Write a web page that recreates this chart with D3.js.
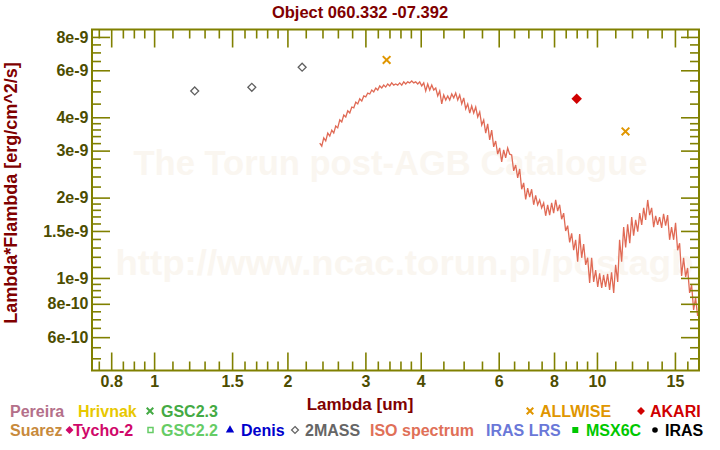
<!DOCTYPE html>
<html><head><meta charset="utf-8">
<script src="https://cdn.jsdelivr.net/npm/d3@7"></script>
<style>body{margin:0;background:#fff}svg{display:block;font-family:Arial,"Liberation Sans",sans-serif}</style>
</head><body><svg id="c" width="720" height="450"></svg>
<script>
// ---------- DATA ----------
const chartTitle = "Object 060.332 -07.392";
const xTitle = "Lambda [um]";
const yTitle = "Lambda*Flambda [erg/cm^2/s]";

const xMajorTicks = [0.8, 1, 1.5, 2, 3, 4, 6, 8, 10, 15];
const xTickLabels = ["0.8", "1", "1.5", "2", "3", "4", "6", "8", "10", "15"];
const xMinorTicks = [0.75, 0.85, 0.9, 0.95, 1.1, 1.2, 1.3, 1.4, 1.6, 1.7, 1.8, 1.9, 2.2, 2.4, 2.6, 2.8,
  3.2, 3.4, 3.6, 3.8, 4.5, 5, 5.5, 6.5, 7, 7.5, 8.5, 9, 9.5, 11, 12, 13, 14, 16];
const yMajorTicks = [6e-10, 8e-10, 1e-9, 1.5e-9, 2e-9, 3e-9, 4e-9, 6e-9, 8e-9];
const yTickLabels = ["6e-10", "8e-10", "1e-9", "1.5e-9", "2e-9", "3e-9", "4e-9", "6e-9", "8e-9"];
const yMinorTicks = [5e-10, 5.5e-10, 6.5e-10, 7e-10, 7.5e-10, 8.5e-10, 9e-10, 9.5e-10, 1.1e-9, 1.2e-9, 1.3e-9, 1.4e-9,
  1.6e-9, 1.7e-9, 1.8e-9, 1.9e-9, 2.2e-9, 2.4e-9, 2.6e-9, 2.8e-9, 3.2e-9, 3.4e-9, 3.6e-9, 3.8e-9,
  4.5e-9, 5e-9, 5.5e-9, 6.5e-9, 7e-9, 7.5e-9];

// 2MASS photometry
const twoMassWave = [1.235, 1.662, 2.159];
const twoMassFlux = [5.02e-9, 5.18e-9, 6.16e-9];
// ALLWISE photometry
const allwiseWave = [3.35, 11.6];
const allwiseFlux = [6.56e-9, 3.54e-9];
// AKARI photometry
const akariWave = [9.0];
const akariFlux = [4.69e-9];

// ISO spectrum
const isoWave = [
  2.366, 2.391, 2.416, 2.441, 2.467, 2.493, 2.519, 2.545, 2.571, 2.598,
  2.626, 2.653, 2.681, 2.709, 2.737, 2.766, 2.795, 2.824, 2.854, 2.883,
  2.913, 2.944, 2.975, 3.006, 3.037, 3.069, 3.101, 3.133, 3.166, 3.199,
  3.232, 3.266, 3.300, 3.334, 3.369, 3.405, 3.440, 3.476, 3.512, 3.549,
  3.586, 3.624, 3.662, 3.700, 3.738, 3.777, 3.817, 3.857, 3.897, 3.938,
  3.979, 4.021, 4.063, 4.105, 4.148, 4.192, 4.236, 4.280, 4.325, 4.370,
  4.415, 4.462, 4.508, 4.556, 4.603, 4.651, 4.700, 4.749, 4.798, 4.849,
  4.899, 4.951, 5.002, 5.054, 5.107, 5.161, 5.214, 5.269, 5.324, 5.380,
  5.436, 5.493, 5.550, 5.608, 5.666, 5.725, 5.785, 5.845, 5.906, 5.968,
  6.030, 6.093, 6.157, 6.221, 6.286, 6.352, 6.418, 6.486, 6.553, 6.622,
  6.691, 6.761, 6.831, 6.903, 6.975, 7.048, 7.121, 7.196, 7.271, 7.347,
  7.424, 7.501, 7.580, 7.659, 7.739, 7.820, 7.902, 7.984, 8.068, 8.152,
  8.237, 8.323, 8.410, 8.498, 8.587, 8.677, 8.768, 8.859, 8.952, 9.045,
  9.140, 9.236, 9.332, 9.430, 9.528, 9.627, 9.728, 9.830, 9.933, 10.04,
  10.14, 10.25, 10.35, 10.46, 10.57, 10.68, 10.79, 10.91, 11.02, 11.14,
  11.25, 11.37, 11.49, 11.61, 11.73, 11.86, 11.98, 12.10, 12.23, 12.36,
  12.49, 12.62, 12.75, 12.88, 13.02, 13.15, 13.29, 13.43, 13.57, 13.71,
  13.85, 14.00, 14.14, 14.29, 14.44, 14.59, 14.74, 14.90, 15.05, 15.21,
  15.37, 15.53, 15.69, 15.86, 16.02, 16.19, 16.36, 16.53, 16.70, 16.88
];
const isoFlux = [
  3.20e-9, 3.12e-9, 3.35e-9, 3.26e-9, 3.49e-9, 3.40e-9, 3.58e-9, 3.49e-9, 3.71e-9, 3.65e-9,
  3.91e-9, 3.84e-9, 4.08e-9, 4.01e-9, 4.23e-9, 4.15e-9, 4.37e-9, 4.34e-9, 4.56e-9, 4.49e-9,
  4.69e-9, 4.60e-9, 4.81e-9, 4.77e-9, 4.93e-9, 4.89e-9, 5.06e-9, 4.98e-9, 5.15e-9, 5.06e-9,
  5.24e-9, 5.15e-9, 5.28e-9, 5.19e-9, 5.33e-9, 5.24e-9, 5.38e-9, 5.28e-9, 5.33e-9, 5.28e-9,
  5.38e-9, 5.28e-9, 5.43e-9, 5.33e-9, 5.43e-9, 5.38e-9, 5.47e-9, 5.38e-9, 5.43e-9, 5.33e-9,
  5.43e-9, 5.24e-9, 5.38e-9, 5.02e-9, 5.33e-9, 5.06e-9, 5.28e-9, 5.06e-9, 5.15e-9, 4.81e-9,
  5.02e-9, 4.49e-9, 4.85e-9, 4.64e-9, 4.81e-9, 4.64e-9, 4.89e-9, 4.73e-9, 4.93e-9, 4.64e-9,
  4.85e-9, 4.49e-9, 4.73e-9, 4.30e-9, 4.49e-9, 4.15e-9, 4.41e-9, 4.15e-9, 4.37e-9, 4.01e-9,
  4.19e-9, 3.74e-9, 3.91e-9, 3.49e-9, 3.78e-9, 3.29e-9, 3.58e-9, 3.10e-9, 3.26e-9, 2.91e-9,
  3.07e-9, 2.72e-9, 3.02e-9, 2.82e-9, 3.07e-9, 2.91e-9, 2.89e-9, 2.52e-9, 2.65e-9, 2.37e-9,
  2.56e-9, 2.15e-9, 2.27e-9, 1.97e-9, 2.17e-9, 2.01e-9, 2.15e-9, 1.88e-9, 2.04e-9, 1.88e-9,
  1.96e-9, 1.83e-9, 1.91e-9, 1.71e-9, 1.88e-9, 1.72e-9, 1.91e-9, 1.75e-9, 1.96e-9, 1.78e-9,
  1.88e-9, 1.66e-9, 1.75e-9, 1.50e-9, 1.57e-9, 1.36e-9, 1.47e-9, 1.27e-9, 1.39e-9, 1.15e-9,
  1.46e-9, 1.19e-9, 1.34e-9, 1.12e-9, 1.19e-9, 0.958e-9, 1.19e-9, 0.966e-9, 1.07e-9, 0.925e-9,
  1.04e-9, 0.917e-9, 1.026e-9, 0.925e-9, 1.035e-9, 0.902e-9, 1.05e-9, 0.879e-9, 1.12e-9, 0.966e-9,
  1.39e-9, 1.15e-9, 1.55e-9, 1.30e-9, 1.59e-9, 1.35e-9, 1.69e-9, 1.44e-9, 1.65e-9, 1.49e-9,
  1.75e-9, 1.58e-9, 1.83e-9, 1.65e-9, 1.96e-9, 1.72e-9, 1.83e-9, 1.55e-9, 1.71e-9, 1.58e-9,
  1.69e-9, 1.54e-9, 1.74e-9, 1.57e-9, 1.72e-9, 1.39e-9, 1.55e-9, 1.39e-9, 1.61e-9, 1.27e-9,
  1.35e-9, 1.017e-9, 1.19e-9, 1.009e-9, 1.09e-9, 0.879e-9, 0.941e-9, 0.759e-9, 0.842e-9, 0.720e-9
];

const legendRow1 = ["Pereira", "Hrivnak", "GSC2.3", "ALLWISE", "AKARI"];
const legendRow2 = ["Suarez", "Tycho-2", "GSC2.2", "Denis", "2MASS", "ISO spectrum", "IRAS LRS", "MSX6C", "IRAS"];
const watermark = ["The Torun post-AGB Catalogue", "http://www.ncac.torun.pl/postagb"];

// ---------- LAYOUT ----------
const W = 720, H = 450;
const m = {left: 92, right: 21, top: 29.5, bottom: 79.5};
const svg = d3.select("#c");
const x = d3.scaleLog().domain([0.724, 17]).range([m.left, W - m.right]);
const y = d3.scaleLog().domain([4.5e-10, 8.53e-9]).range([H - m.bottom, m.top]);
const axisCol = "#808000", labCol = "#4d4d00", titleCol = "#800000";

svg.append("rect").attr("width", W).attr("height", H).attr("fill", "#fff");

// watermark
const wmX = (m.left + W - m.right) / 2;
svg.append("text").attr("x", wmX - 5).attr("y", 175).attr("text-anchor", "middle")
  .attr("font-size", 35).attr("font-weight", "bold").attr("fill", "#faf6f0")
  .attr("textLength", 514).attr("lengthAdjust", "spacingAndGlyphs").text(watermark[0]);
svg.append("text").attr("x", wmX + 9).attr("y", 275).attr("text-anchor", "middle")
  .attr("font-size", 35).attr("font-weight", "bold").attr("fill", "#faf6f0")
  .attr("textLength", 578).attr("lengthAdjust", "spacingAndGlyphs").text(watermark[1]);

// clip
svg.append("clipPath").attr("id", "clip").append("rect")
  .attr("x", m.left).attr("y", m.top).attr("width", W - m.left - m.right).attr("height", H - m.top - m.bottom);

// ISO spectrum
const isoData = isoWave.map((w, i) => [w, isoFlux[i]]);
svg.append("path").datum(isoData).attr("clip-path", "url(#clip)")
  .attr("fill", "none").attr("stroke", "#e06a55").attr("stroke-width", 1.3)
  .attr("d", d3.line().x(d => x(d[0])).y(d => y(d[1])));

// 2MASS open diamonds
const diamond = d3.symbol().type(d3.symbolDiamond2).size(40);
svg.selectAll(".tm").data(twoMassWave.map((w, i) => [w, twoMassFlux[i]])).enter().append("path")
  .attr("transform", d => `translate(${x(d[0])},${y(d[1])})`)
  .attr("d", diamond).attr("fill", "none").attr("stroke", "#606060").attr("stroke-width", 1.3);
// ALLWISE crosses
const cross = d3.symbol().type(d3.symbolX).size(40);
svg.selectAll(".aw").data(allwiseWave.map((w, i) => [w, allwiseFlux[i]])).enter().append("path")
  .attr("transform", d => `translate(${x(d[0])},${y(d[1])})`)
  .attr("d", cross).attr("fill", "none").attr("stroke", "#e09600").attr("stroke-width", 2);
// AKARI filled diamond
svg.selectAll(".ak").data(akariWave.map((w, i) => [w, akariFlux[i]])).enter().append("path")
  .attr("transform", d => `translate(${x(d[0])},${y(d[1])})`)
  .attr("d", d3.symbol().type(d3.symbolDiamond2).size(70)).attr("fill", "#d00000");

// axes
function styleAxis(g) {
  g.select(".domain").remove();
  g.selectAll(".tick line").attr("stroke", axisCol).attr("stroke-width", 1.6);
  g.selectAll(".tick text").attr("fill", labCol).attr("font-size", 16).attr("font-weight", "bold")
    .attr("font-family", "Arial, 'Liberation Sans', sans-serif");
}
const bottom = H - m.bottom, right = W - m.right;
svg.append("g").attr("transform", `translate(0,${bottom})`)
  .call(d3.axisBottom(x).tickValues(xMajorTicks).tickSize(-18).tickPadding(5).tickFormat((d, i) => xTickLabels[i])).call(styleAxis);
svg.append("g").attr("transform", `translate(0,${bottom})`)
  .call(d3.axisBottom(x).tickValues(xMinorTicks).tickSize(-9).tickFormat("")).call(styleAxis);
svg.append("g").attr("transform", `translate(0,${m.top})`)
  .call(d3.axisTop(x).tickValues(xMajorTicks).tickSize(-18).tickFormat("")).call(styleAxis);
svg.append("g").attr("transform", `translate(0,${m.top})`)
  .call(d3.axisTop(x).tickValues(xMinorTicks).tickSize(-9).tickFormat("")).call(styleAxis);
svg.append("g").attr("transform", `translate(${m.left},0)`)
  .call(d3.axisLeft(y).tickValues(yMajorTicks).tickSize(-18).tickPadding(3.5).tickFormat((d, i) => yTickLabels[i])).call(styleAxis);
svg.append("g").attr("transform", `translate(${m.left},0)`)
  .call(d3.axisLeft(y).tickValues(yMinorTicks).tickSize(-9).tickFormat("")).call(styleAxis);
svg.append("g").attr("transform", `translate(${right},0)`)
  .call(d3.axisRight(y).tickValues(yMajorTicks).tickSize(-18).tickFormat("")).call(styleAxis);
svg.append("g").attr("transform", `translate(${right},0)`)
  .call(d3.axisRight(y).tickValues(yMinorTicks).tickSize(-9).tickFormat("")).call(styleAxis);

svg.append("rect").attr("x", m.left).attr("y", m.top).attr("width", right - m.left).attr("height", bottom - m.top)
  .attr("fill", "none").attr("stroke", axisCol).attr("stroke-width", 2);

// titles
svg.append("text").attr("x", 360).attr("y", 18).attr("text-anchor", "middle").attr("font-size", 16.5)
  .attr("font-weight", "bold").attr("fill", titleCol).text(chartTitle);
svg.append("text").attr("x", 360).attr("y", 410).attr("text-anchor", "middle").attr("font-size", 17)
  .attr("font-weight", "bold").attr("fill", titleCol).text(xTitle);
svg.append("text").attr("transform", "translate(16.5,193) rotate(-90)").attr("text-anchor", "middle").attr("font-size", 18)
  .attr("font-weight", "bold").attr("fill", titleCol).text(yTitle);

// legend
const leg = svg.append("g").attr("font-size", 16).attr("font-weight", "bold");
const r1 = 416.5, r2 = 435.5;
const legItems = [
  {t: legendRow1[0], x: 10, y: r1, c: "#b4708a"},
  {t: legendRow1[1], x: 78, y: r1, c: "#e8c800"},
  {t: legendRow1[2], x: 161, y: r1, c: "#44aa44", s: "x", sx: 150},
  {t: legendRow1[3], x: 540, y: r1, c: "#e09600", s: "x", sx: 530},
  {t: legendRow1[4], x: 650, y: r1, c: "#d00000", s: "dfill", sx: 641},
  {t: legendRow2[0], x: 10, y: r2, c: "#c88a3c"},
  {t: legendRow2[1], x: 73, y: r2, c: "#d0086a", s: "dfill", sx: 69.5},
  {t: legendRow2[2], x: 161, y: r2, c: "#66cc66", s: "sq", sx: 150.5},
  {t: legendRow2[3], x: 241, y: r2, c: "#0000cc", s: "tri", sx: 230},
  {t: legendRow2[4], x: 305, y: r2, c: "#666666", s: "dopen", sx: 295},
  {t: legendRow2[5], x: 370, y: r2, c: "#e07058"},
  {t: legendRow2[6], x: 486, y: r2, c: "#6a78d8"},
  {t: legendRow2[7], x: 586, y: r2, c: "#00c800", s: "sqfill", sx: 575.3},
  {t: legendRow2[8], x: 665, y: r2, c: "#000000", s: "dot", sx: 655}
];
legItems.forEach(it => {
  leg.append("text").attr("x", it.x).attr("y", it.y).attr("fill", it.c).text(it.t);
  if (!it.s) return;
  const cy = it.y - 5.5;
  const g = leg.append("g").attr("transform", `translate(${it.sx},${cy})`);
  if (it.s === "x") g.append("path").attr("d", d3.symbol().type(d3.symbolX).size(30)).attr("stroke", it.c).attr("stroke-width", 2).attr("fill", "none");
  if (it.s === "dfill") g.append("path").attr("d", d3.symbol().type(d3.symbolDiamond2).size(40)).attr("fill", it.c);
  if (it.s === "dopen") g.append("path").attr("d", d3.symbol().type(d3.symbolDiamond2).size(30)).attr("fill", "none").attr("stroke", it.c).attr("stroke-width", 1.3);
  if (it.s === "sq") g.append("rect").attr("x", -2.5).attr("y", -2.5).attr("width", 5).attr("height", 5).attr("fill", "none").attr("stroke", it.c).attr("stroke-width", 1.5);
  if (it.s === "sqfill") g.append("rect").attr("x", -3).attr("y", -3).attr("width", 6).attr("height", 6).attr("fill", it.c);
  if (it.s === "tri") g.append("path").attr("d", d3.symbol().type(d3.symbolTriangle).size(30)).attr("fill", it.c);
  if (it.s === "dot") g.append("circle").attr("r", 2.8).attr("fill", it.c);
});
</script></body></html>
